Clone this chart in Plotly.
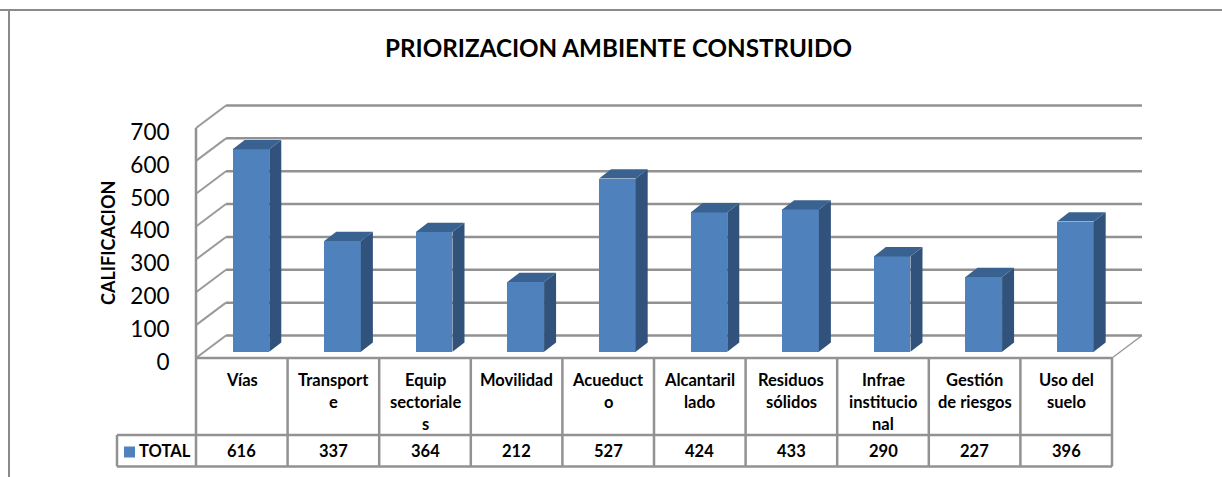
import plotly.graph_objects as go

# ---- data ----
categories = ["Vías", "Transport\ne", "Equip\nsectoriale\ns", "Movilidad", "Acueduct\no",
              "Alcantaril\nlado", "Residuos\nsólidos", "Infrae\ninstitucio\nnal", "Gestión\nde riesgos", "Uso del\nsuelo"]
values = [616, 337, 364, 212, 527, 424, 433, 290, 227, 396]
y_ticks = [0, 100, 200, 300, 400, 500, 600, 700]
series_name = "TOTAL"
title = "PRIORIZACION AMBIENTE CONSTRUIDO"
y_title = "CALIFICACION"

# ---- layout scales ----
W, H = 1222, 477
X0_PX, CAT_PX = 196.0, 91.6      # left of the category band, band width
Y0_PX, UNIT_PX = 358.0, 230 / 700  # value 0 line, px per value unit
FONT = "Lato"
GRID = "#929292"
FRONT, SIDE, TOP = "#4f81bd", "#30527b", "#3a6290"

def X(px): return (px - X0_PX) / CAT_PX
def Y(px): return (Y0_PX - px) / UNIT_PX

# depth of the walls and of the bars, in axis units
WALL_DX, WALL_DY = 30 / CAT_PX, 22.5 / UNIT_PX
BAR_DX, BAR_DY = 12 / CAT_PX, 9.3 / UNIT_PX
BAR_W = 0.40
BAR_SHIFT = 0.10
BAR_BASE = 6.3 / UNIT_PX
N = len(categories)
ROW1_Y, ROW2_Y = Y(435), Y(466.5)
LEFT_CELL = X(117)

shapes = []
def seg(x0, y0, x1, y1, color=GRID, width=2.5):
    shapes.append(dict(type="line", xref="x", yref="y", x0=x0, y0=y0, x1=x1, y1=y1,
                       layer="below", line=dict(color=color, width=width)))

# chart frame
seg(X(-2), Y(10), X(W + 2), Y(10), "#8a8a8a", 2)
seg(X(9), Y(10), X(9), Y(H + 2), "#8a8a8a", 2)

# walls
for t in y_ticks:
    seg(WALL_DX, t + WALL_DY, N + WALL_DX, t + WALL_DY)
    seg(0, t, WALL_DX, t + WALL_DY, "#9a9a9a", 2)
seg(0, 0, 0, y_ticks[-1])
seg(N, 0, N + WALL_DX, WALL_DY, "#9a9a9a", 1.5)

# data table
seg(0, 0, N, 0)
seg(LEFT_CELL, ROW1_Y, N, ROW1_Y)
seg(LEFT_CELL, ROW2_Y, N, ROW2_Y)
seg(LEFT_CELL, ROW1_Y, LEFT_CELL, ROW2_Y)
for i in range(N + 1):
    seg(i, 0, i, ROW2_Y)

fig = go.Figure()
centers = [i + 0.5 + BAR_SHIFT for i in range(N)]

fig.add_trace(go.Bar(x=centers, y=values, base=BAR_BASE, width=BAR_W,
                     marker=dict(color=FRONT, line=dict(width=0)), name=series_name,
                     showlegend=False))

for c, v in zip(centers, values):
    r, l = c + BAR_W / 2, c - BAR_W / 2
    top = BAR_BASE + v
    fig.add_trace(go.Scatter(
        x=[r, r + BAR_DX, r + BAR_DX, r, r],
        y=[BAR_BASE, BAR_BASE + BAR_DY, top + BAR_DY, top, BAR_BASE],
        fill="toself", fillcolor=SIDE, mode="lines", line=dict(width=0),
        showlegend=False, hoverinfo="skip"))
    fig.add_trace(go.Scatter(
        x=[l, r, r + BAR_DX, l + BAR_DX, l],
        y=[top, top, top + BAR_DY, top + BAR_DY, top],
        fill="toself", fillcolor=TOP, mode="lines", line=dict(width=0),
        showlegend=False, hoverinfo="skip"))

# legend key in the table
fig.add_trace(go.Scatter(x=[X(129.5)], y=[Y(452)], mode="markers",
                         marker=dict(symbol="square", size=11, color=FRONT, line=dict(width=0)),
                         showlegend=False, hoverinfo="skip"))

annotations = []
TABLE_FONT = dict(family=FONT, size=16.5, color="#000000", weight="bold")
LINE_PX, FIRST_PX = 22.0, 380.0
for i, (cat, v) in enumerate(zip(categories, values)):
    for k, line in enumerate(cat.split("\n")):
        annotations.append(dict(x=i + 0.5, y=Y(FIRST_PX + k * LINE_PX), text=line, xref="x", yref="y",
                                showarrow=False, font=TABLE_FONT, xanchor="center", yanchor="middle"))
    annotations.append(dict(x=i + 0.5, y=Y(451), text=str(v), xref="x", yref="y", showarrow=False,
                            font=TABLE_FONT, xanchor="center", yanchor="middle"))
annotations.append(dict(x=X(137), y=Y(451), text=series_name, xref="x", yref="y", showarrow=False,
                        font=TABLE_FONT, xanchor="left", yanchor="middle"))
annotations.append(dict(x=X(108), y=Y(243), text=y_title, xref="x", yref="y", showarrow=False,
                        textangle=-90, font=dict(family=FONT, size=18, color="#000000", weight="bold"),
                        xanchor="center", yanchor="middle"))

fig.update_layout(
    width=W, height=H, autosize=False,
    margin=dict(l=0, r=0, t=0, b=0, pad=0),
    paper_bgcolor="#ffffff", plot_bgcolor="#ffffff",
    showlegend=False,
    bargap=0,
    shapes=shapes,
    annotations=annotations,
    title=dict(text=title, x=618.5 / W, xanchor="center", y=1 - 49 / H, yanchor="middle",
               font=dict(family=FONT, size=24.2, color="#000000", weight="bold")),
    xaxis=dict(range=[X(0), X(W)], domain=[0, 1], showgrid=False, zeroline=False,
               showticklabels=False, ticks="", showline=False, fixedrange=True),
    yaxis=dict(range=[Y(H), Y(0)], domain=[0, 1], anchor="free", position=X0_PX / W,
               tickmode="array", tickvals=y_ticks, ticktext=[str(t) for t in y_ticks],
               showgrid=False, zeroline=False, showline=False,
               ticks="outside", ticklen=22, tickcolor="rgba(0,0,0,0)", ticklabelshift=4,
               tickfont=dict(family=FONT, size=22.5, color="#000000"), fixedrange=True),
)

fig.write_html("out.html", config={"displayModeBar": False},
               post_script="document.body.style.margin='0';document.body.style.overflow='hidden';")
